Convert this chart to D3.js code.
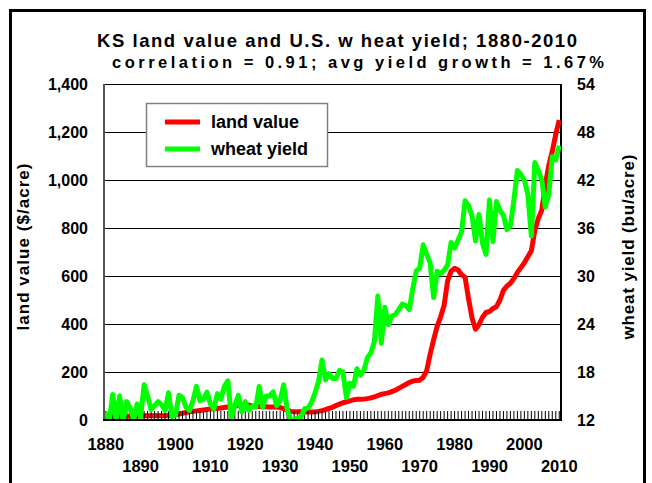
<!DOCTYPE html>
<html><head><meta charset="utf-8">
<script src="https://cdn.jsdelivr.net/npm/d3@7"></script>
<style>
body{margin:0;background:#fff;}
svg{display:block;font-family:"Liberation Sans",Arial,sans-serif;font-weight:bold;}
</style></head>
<body>
<svg id="c" width="652" height="483"></svg>
<script>
const titleText = "KS land value and U.S. w heat yield; 1880-2010";
const subtitleText = "correlation = 0.91; avg yield growth = 1.67%";
const seriesNames = ["land value", "wheat yield"];
const years = d3.range(1880, 2011);
const landValue = [
 12,13,14,14,15,15,16,17,17,17,
 18,18,18,18,18,18,18,18,19,20,
 22,25,28,31,34,36,38,40,42,44,
 46,47,48,50,52,54,56,58,61,64,
 66,62,58,56,56,55,55,54,54,54,
 52,47,41,36,34,34,34,34,33,33,
 34,36,39,43,48,53,60,66,72,76,
 80,84,86,86,87,89,92,96,102,107,
 110,113,118,124,132,140,148,156,162,165,
 166,178,205,275,335,390,430,478,580,620,
 632,625,605,595,505,425,378,398,428,448,
 452,465,472,500,540,558,570,590,615,635,
 655,680,705,790,840,875,980,1060,1120,1190,
 1250];
const wheatYield = [
 13.0,11.8,15.2,12.0,15.0,11.8,14.3,13.5,12.0,14.0,
 12.4,16.4,15.0,13.3,13.8,14.3,13.9,13.2,15.4,12.4,
 12.6,15.1,14.8,13.6,13.2,14.4,16.2,14.4,14.6,15.5,
 14.0,13.4,15.3,14.6,16.2,16.9,12.3,13.8,15.1,13.0,
 14.3,13.2,13.7,13.6,16.2,13.6,15.0,15.0,15.5,13.8,
 14.4,16.4,13.4,12.0,12.0,12.3,12.4,13.4,13.5,14.2,
 15.4,16.8,19.5,17.0,17.8,17.2,17.2,18.2,18.0,14.8,
 16.6,16.2,18.4,17.6,18.2,19.8,20.4,21.8,27.5,21.6,
 26.1,23.9,25.0,25.2,25.8,26.5,26.3,25.8,28.4,30.6,
 31.0,33.9,32.7,31.6,27.3,30.6,30.3,30.7,31.4,34.2,
 33.5,34.5,35.5,39.4,38.8,37.5,34.4,37.7,34.1,32.7,
 39.5,34.3,39.3,38.2,37.6,35.8,36.3,39.5,43.2,42.7,
 42.0,40.2,35.0,44.2,43.2,42.0,38.6,40.2,44.9,44.5,
 46.3];
const leftTicks = [0,200,400,600,800,1000,1200,1400];
const rightTicks = [12,18,24,30,36,42,48,54];
const xLabels = [1880,1890,1900,1910,1920,1930,1940,1950,1960,1970,1980,1990,2000,2010];

const svg = d3.select("#c");
const L = 104, R = 561, T = 84, B = 420;
const x = d3.scaleLinear().domain([1879.5, 2010.5]).range([L, R]);
const yL = d3.scaleLinear().domain([0, 1400]).range([B, T]);
const yR = d3.scaleLinear().domain([12, 54]).range([B, T]);

// outer frame
svg.append("rect").attr("x",10.5).attr("y",10.5).attr("width",634).attr("height",500)
  .attr("fill","none").attr("stroke","#000").attr("stroke-width",3);

// titles
svg.append("text").attr("x",337).attr("y",47).attr("text-anchor","middle")
  .attr("font-size",18.5).attr("textLength",480).attr("lengthAdjust","spacing").text(titleText);
svg.append("text").attr("x",358).attr("y",68).attr("text-anchor","middle")
  .attr("font-size",16.5).attr("textLength",492).attr("lengthAdjust","spacing").text(subtitleText);

// gridlines
svg.append("g").selectAll("line").data(leftTicks.filter(d=>d>0 && d<1400)).join("line")
  .attr("x1",L).attr("x2",R).attr("y1",d=>Math.round(yL(d))+0.5).attr("y2",d=>Math.round(yL(d))+0.5)
  .attr("stroke","#000").attr("stroke-width",1);

// plot frame
svg.append("line").attr("x1",L).attr("x2",R).attr("y1",T+0.5).attr("y2",T+0.5).attr("stroke","#000").attr("stroke-width",1);
svg.append("line").attr("x1",R).attr("x2",R).attr("y1",T).attr("y2",B+1).attr("stroke","#000").attr("stroke-width",2);

// clip
svg.append("clipPath").attr("id","clip").append("rect").attr("x",L).attr("y",T).attr("width",R-L).attr("height",B-T);

const lineL = d3.line().x((d,i)=>x(years[i])).y(d=>yL(d));
const lineR = d3.line().x((d,i)=>x(years[i])).y(d=>yR(d));

svg.append("path").datum(landValue).attr("d",lineL).attr("fill","none")
  .attr("stroke","#ff0000").attr("stroke-width",5).attr("stroke-linejoin","round").attr("clip-path","url(#clip)");

// year ticks
svg.append("g").selectAll("line").data(years).join("line")
  .attr("x1",d=>x(d)).attr("x2",d=>x(d)).attr("y1",B).attr("y2",B-9)
  .attr("stroke","#000").attr("stroke-width",1);

svg.append("path").datum(wheatYield).attr("d",lineR).attr("fill","none")
  .attr("stroke","#00ff00").attr("stroke-width",5).attr("stroke-linejoin","round").attr("clip-path","url(#clip)");

// axes lines
svg.append("line").attr("x1",L).attr("x2",L).attr("y1",T).attr("y2",B+1).attr("stroke","#555").attr("stroke-width",2);
svg.append("line").attr("x1",L-1).attr("x2",R+1).attr("y1",B).attr("y2",B).attr("stroke","#000").attr("stroke-width",2);

// left tick labels
svg.append("g").selectAll("text").data(leftTicks).join("text")
  .attr("x",88).attr("y",d=>yL(d)).attr("dy","0.36em").attr("text-anchor","end")
  .attr("font-size",16).text(d=>d3.format(",")(d));
// right tick labels
svg.append("g").selectAll("text").data(rightTicks).join("text")
  .attr("x",577).attr("y",d=>yR(d)).attr("dy","0.36em").attr("text-anchor","start")
  .attr("font-size",16).text(d=>d);
// x labels (staggered)
svg.append("g").selectAll("text").data(xLabels).join("text")
  .attr("x",d=>x(d)).attr("y",(d,i)=> i%2===0 ? 450 : 472).attr("text-anchor","middle")
  .attr("font-size",16.5).text(d=>d);

// axis titles
svg.append("text").attr("transform","translate(23,247) rotate(-90)").attr("text-anchor","middle")
  .attr("dy","0.35em").attr("font-size",17).attr("textLength",167).attr("lengthAdjust","spacing").text("land value ($/acre)");
svg.append("text").attr("transform","translate(628,247) rotate(-90)").attr("text-anchor","middle")
  .attr("dy","0.35em").attr("font-size",17).attr("textLength",185).attr("lengthAdjust","spacing").text("wheat yield (bu/acre)");

// legend
const lg = svg.append("g");
lg.append("rect").attr("x",146.5).attr("y",103.5).attr("width",181).attr("height",63)
  .attr("fill","#fff").attr("stroke","#808080").attr("stroke-width",1.5);
const colors = ["#ff0000","#00ff00"];
seriesNames.forEach((n,i)=>{
  const yy = 122 + i*27;
  lg.append("line").attr("x1",165).attr("x2",200).attr("y1",yy).attr("y2",yy)
    .attr("stroke",colors[i]).attr("stroke-width",5);
  lg.append("text").attr("x",211).attr("y",yy).attr("dy","0.36em").attr("font-size",18).text(n);
});
</script>
</body></html>
